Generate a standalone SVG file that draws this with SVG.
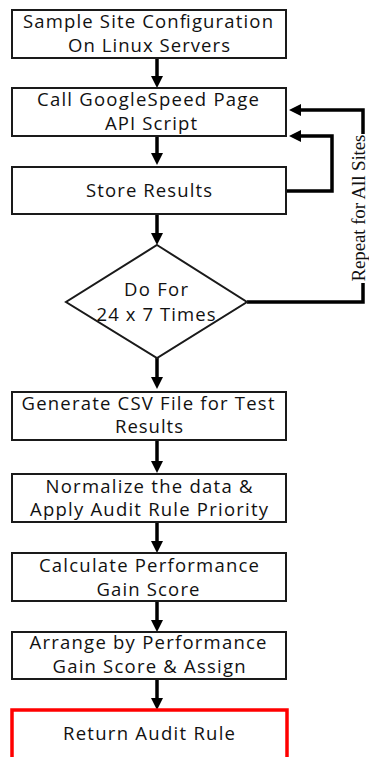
<svg xmlns="http://www.w3.org/2000/svg" width="369" height="757" viewBox="0 0 369 757">
<style>
.box{fill:#fff;stroke:#1a1a1a;stroke-width:2}
.red{fill:#fff;stroke:#ff0000;stroke-width:3.5}
.t{font-family:"Open Sans","Liberation Sans",sans-serif;font-size:18.5px;fill:#111;text-anchor:middle}
.side{font-family:"Liberation Serif",serif;font-size:19px;fill:#111;text-anchor:middle}
.c{fill:none;stroke:#000;stroke-width:3.5}
</style>
<defs>
<marker id="ah" viewBox="0 0 12 12" refX="2" refY="6" markerWidth="12" markerHeight="12" markerUnits="userSpaceOnUse" orient="auto">
<path d="M0,0 L12,6 L0,12 z" fill="#000"/>
</marker>
</defs>
<rect width="369" height="757" fill="#fff"/>
<g id="connectors">
<path class="c" d="M157,58 V78" marker-end="url(#ah)"/>
<path class="c" d="M157,136 V155" marker-end="url(#ah)"/>
<path class="c" d="M157,214 V235" marker-end="url(#ah)"/>
<path class="c" d="M157,358 V379" marker-end="url(#ah)"/>
<path class="c" d="M157,440 V463" marker-end="url(#ah)"/>
<path class="c" d="M157,522 V543" marker-end="url(#ah)"/>
<path class="c" d="M157,601 V622" marker-end="url(#ah)"/>
<path class="c" d="M157,679 V700" marker-end="url(#ah)"/>
<path class="c" d="M286,191 H332 V136 H299" marker-end="url(#ah)"/>
<path class="c" d="M247,302 H363 V283"/>
<path class="c" d="M363,134 V110 H299" marker-end="url(#ah)"/>
</g>
<g id="n1"><rect class="box" x="12" y="10" width="274" height="48"/>
<text class="t" x="148" y="28" textLength="250">Sample Site Configuration</text>
<text class="t" x="149" y="52" textLength="162">On Linux Servers</text></g>
<g id="n2"><rect class="box" x="12" y="88" width="274" height="48"/>
<text class="t" x="148" y="106" textLength="222">Call GoogleSpeed Page</text>
<text class="t" x="151" y="130" textLength="92">API Script</text></g>
<g id="n3"><rect class="box" x="12" y="167" width="274" height="47"/>
<text class="t" x="149" y="197" textLength="126">Store Results</text></g>
<g id="n4"><path class="box" d="M157,245 L247,302 L157,358 L66,302 Z"/>
<text class="t" x="156" y="296" textLength="64">Do For</text>
<text class="t" x="156" y="321" textLength="119">24 x 7 Times</text></g>
<g id="n5"><rect class="box" x="12" y="392" width="274" height="48"/>
<text class="t" x="148" y="410" textLength="253">Generate CSV File for Test</text>
<text class="t" x="149" y="433" textLength="68">Results</text></g>
<g id="n6"><rect class="box" x="12" y="474" width="274" height="48"/>
<text class="t" x="149" y="493" textLength="207">Normalize the data &amp;</text>
<text class="t" x="149" y="516" textLength="238">Apply Audit Rule Priority</text></g>
<g id="n7"><rect class="box" x="12" y="553" width="274" height="48"/>
<text class="t" x="149" y="572" textLength="220">Calculate Performance</text>
<text class="t" x="148" y="596" textLength="103">Gain Score</text></g>
<g id="n8"><rect class="box" x="12" y="632" width="274" height="47"/>
<text class="t" x="148" y="649" textLength="237">Arrange by Performance</text>
<text class="t" x="149" y="673" textLength="193">Gain Score &amp; Assign</text></g>
<g id="n9"><rect class="red" x="12" y="710" width="275" height="60"/>
<text class="t" x="149" y="740" textLength="172">Return Audit Rule</text></g>
<g id="label"><text class="side" transform="translate(365,208) rotate(-90)" textLength="147">Repeat for All Sites</text></g>
</svg>
